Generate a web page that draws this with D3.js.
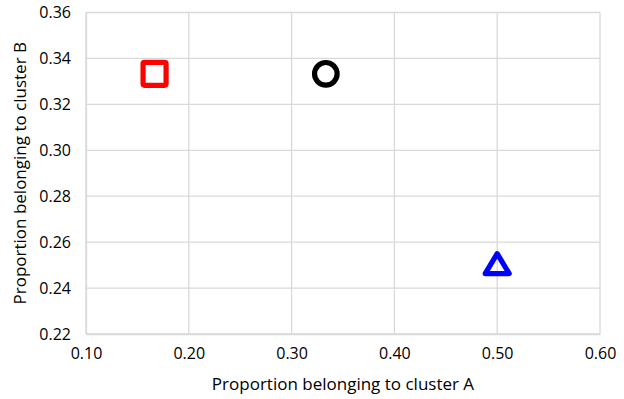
<!DOCTYPE html>
<html><head><meta charset="utf-8">
<script src="https://cdn.jsdelivr.net/npm/d3@7"></script>
<style>body{margin:0;background:#fff}svg{display:block}</style>
</head><body>
<script>
const seriesNames = ["Square", "Circle", "Triangle"];
const xValues = [0.1667, 0.3333, 0.5];
const yValues = [0.3333, 0.3333, 0.25];
const shapes = ["square", "circle", "triangle"];
const colors = ["#ff0000", "#000000", "#0000ff"];
const xTicks = [0.10, 0.20, 0.30, 0.40, 0.50, 0.60];
const yTicks = [0.22, 0.24, 0.26, 0.28, 0.30, 0.32, 0.34, 0.36];

const W = 624, H = 399;
const m = {left: 86, right: 24, top: 12.5, bottom: 65};
const svg = d3.select("body").append("svg").attr("width", W).attr("height", H);
const x = d3.scaleLinear().domain([0.10, 0.60]).range([m.left, W - m.right]);
const y = d3.scaleLinear().domain([0.22, 0.36]).range([H - m.bottom, m.top]);
const font = "'Open Sans', Calibri, sans-serif";

const g = svg.append("g");
g.selectAll(".gx").data(xTicks).join("line")
  .attr("x1", d => x(d)).attr("x2", d => x(d))
  .attr("y1", y(0.22)).attr("y2", y(0.36))
  .attr("stroke", "#d9d9d9").attr("stroke-width", 1.3);
g.selectAll(".gy").data(yTicks).join("line")
  .attr("y1", d => y(d)).attr("y2", d => y(d))
  .attr("x1", x(0.10)).attr("x2", x(0.60))
  .attr("stroke", "#d9d9d9").attr("stroke-width", 1.3);

const xAxis = svg.append("g").attr("transform", `translate(0,${y(0.22)})`)
  .call(d3.axisBottom(x).tickValues(xTicks).tickFormat(d3.format(".2f")).tickSize(0).tickPadding(14));
const yAxis = svg.append("g").attr("transform", `translate(${x(0.10)},0)`)
  .call(d3.axisLeft(y).tickValues(yTicks).tickFormat(d3.format(".2f")).tickSize(0).tickPadding(15));
[xAxis, yAxis].forEach(a => {
  a.select(".domain").attr("stroke", "#d9d9d9").attr("stroke-width", 1.3);
  a.selectAll("text").attr("font-family", font).attr("font-size", 16).attr("fill", "#000");
});

svg.append("text").attr("x", (x(0.10) + x(0.60)) / 2).attr("y", 390)
  .attr("text-anchor", "middle").attr("font-family", font).attr("font-size", 17)
  .text("Proportion belonging to cluster A");
svg.append("text").attr("transform", `translate(26,${(y(0.22) + y(0.36)) / 2}) rotate(-90)`)
  .attr("text-anchor", "middle").attr("font-family", font).attr("font-size", 17)
  .text("Proportion belonging to cluster B");

const data = seriesNames.map((n, i) => ({n, x: xValues[i], y: yValues[i], s: shapes[i], c: colors[i]}));
data.forEach(d => {
  const cx = x(d.x), cy = y(d.y);
  let el;
  if (d.s === "square") {
    el = svg.append("rect").attr("x", cx - 11.5).attr("y", cy - 11.5).attr("width", 23).attr("height", 23).attr("rx", 1.5);
  } else if (d.s === "circle") {
    el = svg.append("circle").attr("cx", cx).attr("cy", cy).attr("r", 11.3);
  } else {
    const w = 24;
    el = svg.append("path").attr("d", `M${cx},${cy - 11.5} L${cx + w/2},${cy + 8.5} L${cx - w/2},${cy + 8.5} Z`)
      .attr("stroke-linejoin", "round");
  }
  el.attr("fill", "none").attr("stroke", d.c).attr("stroke-width", 5.2);
});
</script>
</body></html>
